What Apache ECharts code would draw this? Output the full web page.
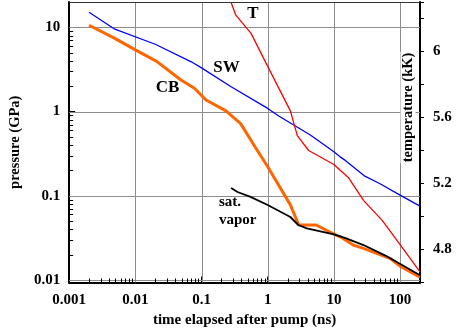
<!DOCTYPE html>
<html><head><meta charset="utf-8">
<script src="https://cdn.jsdelivr.net/npm/echarts@6/dist/echarts.min.js"></script>
<style>html,body{margin:0;padding:0;background:#fff}#c{width:460px;height:333px}</style>
</head><body><div id="c"></div>
<script>
// time (ns), pressure (GPa)
const swData = [[0.002,15.1],[0.0049,9.5],[0.02,6.3],[0.07,3.9],[0.1,3.3],[0.28,1.97],[1,1.09],[1.47,0.885],[4.4,0.526],[10,0.333],[12.4,0.29],[14.7,0.265],[29.4,0.171],[49,0.14],[100,0.102],[200,0.0755]];
const cbData = [[0.002,10.6],[0.0049,7.4],[0.01,5.4],[0.021,3.95],[0.049,2.37],[0.078,1.89],[0.117,1.37],[0.234,1.02],[0.39,0.72],[0.66,0.37],[1,0.221],[2.2,0.078],[2.94,0.045],[5.4,0.045],[10,0.035],[13,0.032],[19.6,0.026],[28,0.0237],[70,0.0181],[100,0.0146],[200,0.0108]];
const satData = [[0.28,0.124],[0.35,0.111],[0.55,0.097],[1,0.0776],[2.2,0.056],[2.9,0.045],[3.9,0.041],[10,0.0348],[15,0.0314],[28,0.026],[60,0.0195],[200,0.0114]];
// time (ns), temperature (kK)
const tData = [[0.278,6.3],[0.33,6.22],[0.56,6.11],[1,5.91],[2.2,5.64],[2.8,5.49],[4.15,5.40],[10,5.315],[16.5,5.237],[28,5.098],[54,4.975],[100,4.83],[200,4.665]];
// axis ticks
const xMajorLabels = [0.001,0.01,0.1,1,10,100];
const yMajorLabels = [0.01,0.1,1,10];
const tLabels = [4.8,5.2,5.6,6];
const xMinorTicks = [0.002,0.003,0.004,0.005,0.006,0.007,0.008,0.009,
  0.02,0.03,0.04,0.05,0.06,0.07,0.08,0.09,
  0.2,0.3,0.4,0.5,0.6,0.7,0.8,0.9,
  2,3,4,5,6,7,8,9,
  20,30,40,50,60,70,80,90];
const yMinorTicks = [0.02,0.03,0.04,0.05,0.06,0.07,0.08,0.09,
  0.2,0.3,0.4,0.5,0.6,0.7,0.8,0.9,
  2,3,4,5,6,7,8,9];

const FONT = 'Liberation Serif';
function isIn(v, list){ return list.some(t => Math.abs(Math.log10(v) - Math.log10(t)) < 1e-6); }
function fmtLog(list){ return function(v){ if(!isIn(v,list)) return ''; const e = Math.round(Math.log10(v)); return e >= 0 ? String(Math.pow(10,e)) : '0.' + '0'.repeat(-e-1) + '1'; }; }

const chart = echarts.init(document.getElementById('c'), null, {renderer:'canvas'});
const labelStyle = {fontFamily: FONT, fontWeight:'bold', fontSize:15, color:'#000'};
const GRID = '#8c8c8c';
chart.setOption({
  animation:false,
  grid:{left:67, right:40, top:2, bottom:50.5, show:false},
  xAxis:{type:'log', logBase:10, min:0.001, max:200,
    name:'time elapsed after pump (ns)', nameLocation:'middle', nameGap:29,
    nameTextStyle:{fontFamily:FONT, fontWeight:'bold', fontSize:15, color:'#000'},
    axisLine:{show:true, lineStyle:{color:'#000', width:2}},
    axisTick:{show:true, inside:true, length:6, lineStyle:{color:'#000', width:1}},
    axisLabel:Object.assign({margin:10, formatter:fmtLog(xMajorLabels), showMinLabel:true, showMaxLabel:true}, labelStyle),
    splitLine:{show:false}},
  yAxis:[
    {type:'log', logBase:10, min:0.00934, max:20,
     name:'pressure (GPa)', nameLocation:'middle', nameGap:34, nameRotate:90,
     nameTextStyle:{fontFamily:FONT, fontWeight:'bold', fontSize:14.5, color:'#000'},
     axisLine:{show:true, lineStyle:{color:'#000', width:2}},
     axisTick:{show:true, inside:true, length:6, lineStyle:{color:'#000', width:1}},
     axisLabel:Object.assign({margin:9, formatter:fmtLog(yMajorLabels)}, labelStyle),
     splitLine:{show:false}},
    {type:'value', position:'right', min:4.6, max:6.3, interval:0.2,
     axisLine:{show:true, lineStyle:{color:'#000', width:2}},
     axisTick:{show:true, inside:false, length:4, lineStyle:{color:'#000'}},
     axisLabel:Object.assign({margin:13, formatter:function(v){ return tLabels.some(t=>Math.abs(t-v)<1e-6) ? String(Math.round(v*10)/10) : ''; }}, labelStyle),
     splitLine:{show:false}}
  ],
  series:[
    // grid lines at major decades (vertical)
    {type:'custom', xAxisIndex:0, yAxisIndex:0, silent:true, clip:false, z:1,
     data:xMajorLabels.slice(1).map(v=>[v,1]),
     renderItem:function(params, api){ const x = Math.round(api.coord([api.value(0),1])[0]) + 0.5; const cs = params.coordSys;
       return {type:'line', shape:{x1:x, y1:cs.y, x2:x, y2:cs.y+cs.height}, style:{stroke:GRID, lineWidth:1}}; }},
    // grid lines at major decades (horizontal)
    {type:'custom', xAxisIndex:0, yAxisIndex:0, silent:true, clip:false, z:1,
     data:yMajorLabels.map(v=>[1,v]),
     renderItem:function(params, api){ const y = Math.round(api.coord([1,api.value(1)])[1]) + 0.5; const cs = params.coordSys;
       return {type:'line', shape:{x1:cs.x, y1:y, x2:cs.x+cs.width, y2:y}, style:{stroke:GRID, lineWidth:1}}; }},
    {name:'CB', type:'line', data:cbData, yAxisIndex:0, symbol:'none', lineStyle:{color:'#ff6600', width:3}, z:2},
    {name:'sat. vapor', type:'line', data:satData, yAxisIndex:0, symbol:'none', lineStyle:{color:'#000', width:1.8}, z:3},
    {name:'SW', type:'line', data:swData, yAxisIndex:0, symbol:'none', lineStyle:{color:'#0000ff', width:1.3}, z:4},
    {name:'T', type:'line', data:tData, yAxisIndex:1, symbol:'none', lineStyle:{color:'#ff0000', width:1.3}, z:5},
    {type:'custom', xAxisIndex:0, yAxisIndex:0, silent:true, clip:false, z:6,
     data:xMinorTicks.map(v=>[v,1]),
     renderItem:function(params, api){ const x = Math.round(api.coord([api.value(0),1])[0]) + 0.5; const cs = params.coordSys; const yb = cs.y + cs.height;
       return {type:'line', shape:{x1:x, y1:yb, x2:x, y2:yb-4}, style:{stroke:'#000', lineWidth:1}}; }},
    {type:'custom', xAxisIndex:0, yAxisIndex:0, silent:true, clip:false, z:6,
     data:yMinorTicks.map(v=>[1,v]),
     renderItem:function(params, api){ const y = Math.round(api.coord([1,api.value(1)])[1]) + 0.5; const cs = params.coordSys;
       return {type:'line', shape:{x1:cs.x, y1:y, x2:cs.x+4, y2:y}, style:{stroke:'#000', lineWidth:1}}; }},
    // top frame line
    {type:'custom', xAxisIndex:0, yAxisIndex:0, silent:true, clip:false, z:6,
     data:[[1,20]],
     renderItem:function(params, api){ const cs = params.coordSys; const y = Math.round(cs.y) + 0.5;
       return {type:'line', shape:{x1:cs.x, y1:y, x2:cs.x+cs.width, y2:y}, style:{stroke:'#333', lineWidth:1}}; }}
  ],
  graphic:[
    {type:'text', x:226.5, y:68, z:10, style:{text:'SW', font:'bold 17px "Liberation Serif"', fill:'#000', align:'center', verticalAlign:'middle'}},
    {type:'text', x:167.5, y:88, z:10, style:{text:'CB', font:'bold 17px "Liberation Serif"', fill:'#000', align:'center', verticalAlign:'middle'}},
    {type:'text', x:253, y:14, z:10, style:{text:'T', font:'bold 17px "Liberation Serif"', fill:'#000', align:'center', verticalAlign:'middle'}},
    {type:'text', x:219, y:202, z:10, style:{text:'sat.', font:'bold 15px "Liberation Serif"', fill:'#000', align:'left', verticalAlign:'middle'}},
    {type:'text', x:219, y:220, z:10, style:{text:'vapor', font:'bold 15px "Liberation Serif"', fill:'#000', align:'left', verticalAlign:'middle'}},
    {type:'text', x:408, y:107.5, rotation:Math.PI/2, z:10, style:{text:'temperature (kK)', font:'bold 14.5px "Liberation Serif"', fill:'#000', align:'center', verticalAlign:'middle', backgroundColor:'#fff', padding:[0,1]}}
  ]
});
</script></body></html>
